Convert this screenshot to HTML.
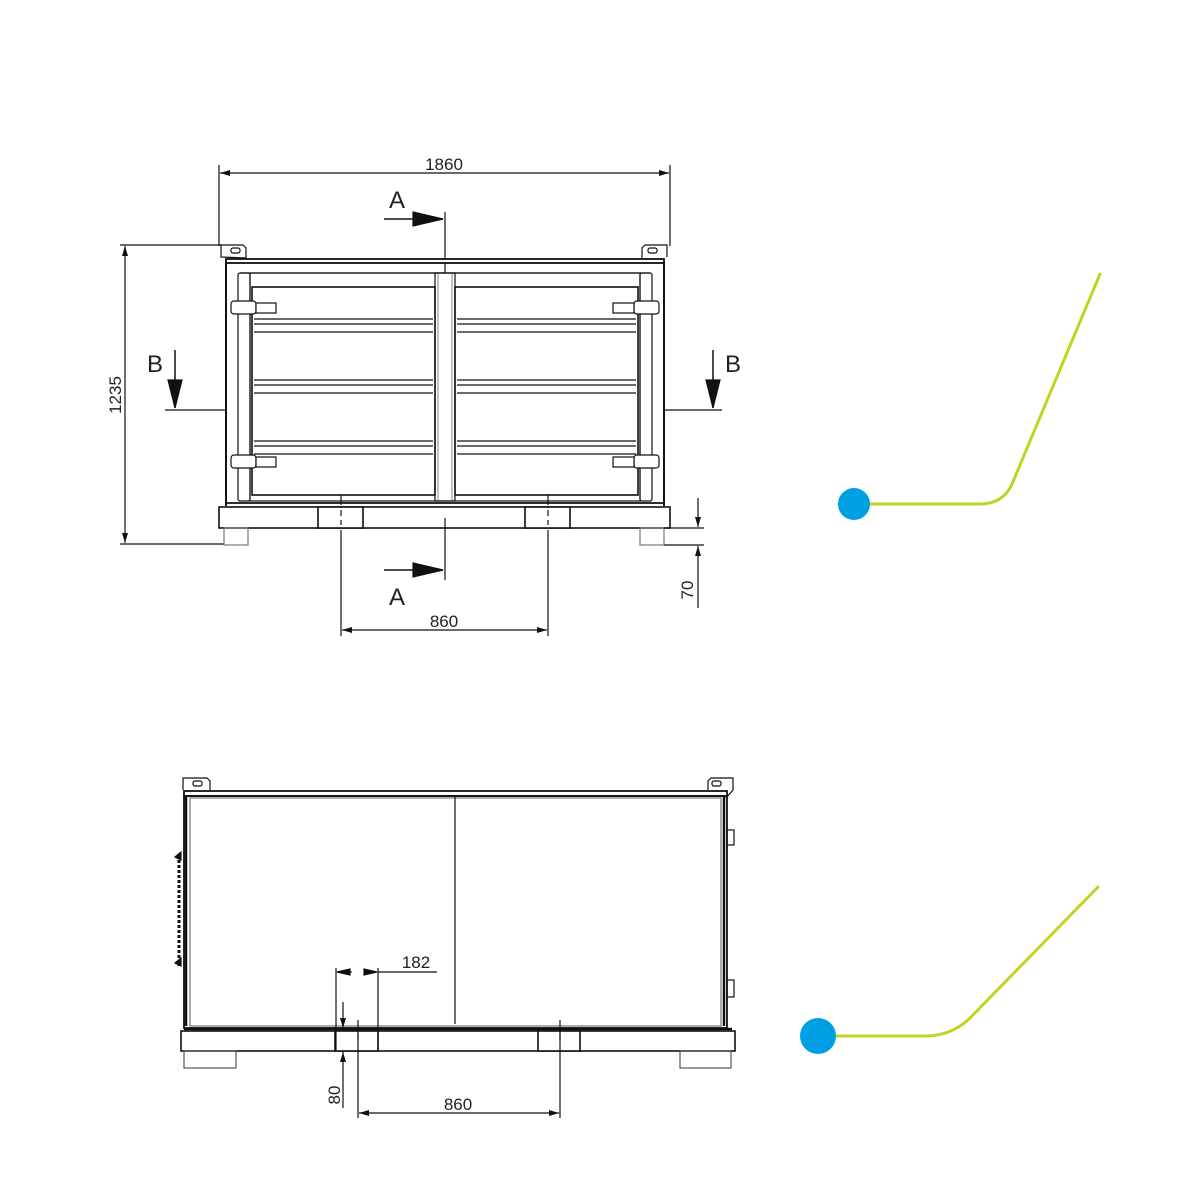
<!DOCTYPE html>
<html><head><meta charset="utf-8"><style>
html,body{margin:0;padding:0;background:#fff;}
svg{display:block}
text{font-family:"Liberation Sans",sans-serif;fill:#222;}
</style></head><body>
<svg width="1200" height="1200" viewBox="0 0 1200 1200" xmlns="http://www.w3.org/2000/svg">
<defs>
<marker id="ar" viewBox="0 0 10 6" refX="10" refY="3" markerWidth="10" markerHeight="6" orient="auto-start-reverse" markerUnits="userSpaceOnUse"><path d="M0,0 L10,3 L0,6 z" fill="#111"/></marker>
</defs>
<g stroke="#111" fill="none" stroke-width="1.2">
<!-- TOP VIEW -->
<!-- dims 1860 -->
<line x1="219" y1="165" x2="219" y2="246"/><line x1="670" y1="165" x2="670" y2="246"/>
<line x1="220" y1="173" x2="669" y2="173" marker-start="url(#ar)" marker-end="url(#ar)"/>
<!-- 1235 -->
<line x1="120" y1="245" x2="222" y2="245"/><line x1="120" y1="544" x2="224" y2="544"/>
<line x1="125" y1="246" x2="125" y2="543" marker-start="url(#ar)" marker-end="url(#ar)"/>
<!-- A top -->
<line x1="445" y1="212" x2="445" y2="273"/>
<line x1="384" y1="219" x2="443" y2="219" stroke-width="1.5"/>
<path d="M413,212 L443,219 L413,226 z" fill="#111"/>
<!-- A bottom -->
<line x1="445" y1="518" x2="445" y2="580"/>
<line x1="384" y1="570" x2="443" y2="570" stroke-width="1.5"/>
<path d="M413,563 L443,570 L413,577 z" fill="#111"/>
<!-- B left -->
<line x1="165" y1="410" x2="227" y2="410"/>
<line x1="175" y1="350" x2="175" y2="408" stroke-width="1.5"/>
<path d="M168,380 L175,408 L182,380 z" fill="#111"/>
<!-- B right -->
<line x1="664" y1="410" x2="722" y2="410"/>
<line x1="713" y1="350" x2="713" y2="408" stroke-width="1.5"/>
<path d="M706,380 L713,408 L720,380 z" fill="#111"/>
<!-- lugs -->
<path d="M221,257 L221,245 L243,245 L246,248 L246,258 z" fill="#fff"/>
<rect x="231" y="248" width="9" height="5" rx="2"/>
<path d="M642,258 L642,248 L645,245 L667,245 L667,257" fill="#fff"/>
<rect x="648" y="248" width="9" height="5" rx="2"/>
<!-- top rail -->
<rect x="226" y="259" width="438" height="4" fill="#fff" stroke-width="1.8"/>
<line x1="240" y1="273" x2="650" y2="273"/>
<!-- side posts -->
<line x1="226" y1="262" x2="226" y2="506" stroke-width="2"/>
<line x1="664" y1="262" x2="664" y2="506" stroke-width="2"/>
<rect x="238" y="273" width="12" height="228" rx="2"/>
<rect x="640" y="273" width="12" height="228" rx="2"/>
<!-- inner frame -->
<rect x="250" y="273" width="390" height="228"/>
<rect x="252" y="287" width="183" height="208" stroke-width="1.6"/>
<rect x="455" y="287" width="183" height="208" stroke-width="1.6"/>
<line x1="438" y1="273" x2="438" y2="501" stroke="#999"/>
<line x1="452" y1="273" x2="452" y2="501" stroke="#999"/>
<rect x="435" y="273" width="20" height="228"/>
<!-- rails -->
<g stroke-width="1.3">
<line x1="254" y1="319" x2="433" y2="319"/><line x1="254" y1="324" x2="433" y2="324"/><line x1="254" y1="332" x2="433" y2="332"/>
<line x1="457" y1="319" x2="636" y2="319"/><line x1="457" y1="324" x2="636" y2="324"/><line x1="457" y1="332" x2="636" y2="332"/>
<line x1="254" y1="380" x2="433" y2="380"/><line x1="254" y1="385" x2="433" y2="385"/><line x1="254" y1="393" x2="433" y2="393"/>
<line x1="457" y1="380" x2="636" y2="380"/><line x1="457" y1="385" x2="636" y2="385"/><line x1="457" y1="393" x2="636" y2="393"/>
<line x1="254" y1="441" x2="433" y2="441"/><line x1="254" y1="446" x2="433" y2="446"/><line x1="254" y1="454" x2="433" y2="454"/>
<line x1="457" y1="441" x2="636" y2="441"/><line x1="457" y1="446" x2="636" y2="446"/><line x1="457" y1="454" x2="636" y2="454"/>
</g>
<!-- hinges -->
<rect x="231" y="301" width="25" height="13" rx="3" fill="#fff"/><rect x="256" y="303" width="20" height="10" fill="#fff"/>
<rect x="231" y="455" width="25" height="13" rx="3" fill="#fff"/><rect x="256" y="457" width="20" height="10" fill="#fff"/>
<rect x="634" y="301" width="25" height="13" rx="3" fill="#fff"/><rect x="613" y="303" width="21" height="10" fill="#fff"/>
<rect x="634" y="455" width="25" height="13" rx="3" fill="#fff"/><rect x="613" y="457" width="21" height="10" fill="#fff"/>
<!-- base -->
<line x1="226" y1="503" x2="664" y2="503" stroke-width="1.8"/>
<rect x="219" y="507" width="451" height="21" stroke-width="1.6"/>
<rect x="318" y="507" width="45" height="21" fill="#fff" stroke-width="1.6"/>
<rect x="525" y="507" width="45" height="21" fill="#fff" stroke-width="1.6"/>
<line x1="341" y1="510" x2="341" y2="516"/><line x1="341" y1="520" x2="341" y2="525"/>
<line x1="548" y1="510" x2="548" y2="516"/><line x1="548" y1="520" x2="548" y2="525"/>
<rect x="224" y="528" width="24" height="17" stroke="#777"/>
<rect x="640" y="528" width="24" height="17" stroke="#777"/>
<!-- 860 -->
<line x1="341" y1="495" x2="341" y2="505"/><line x1="341" y1="530" x2="341" y2="636"/>
<line x1="548" y1="495" x2="548" y2="505"/><line x1="548" y1="530" x2="548" y2="636"/>
<line x1="342" y1="630" x2="547" y2="630" marker-start="url(#ar)" marker-end="url(#ar)"/>
<!-- 70 -->
<line x1="664" y1="528" x2="704" y2="528"/><line x1="664" y1="545" x2="704" y2="545"/>
<line x1="698" y1="498" x2="698" y2="527" marker-end="url(#ar)"/>
<line x1="698" y1="608" x2="698" y2="546" marker-end="url(#ar)"/>

<!-- BOTTOM VIEW -->
<path d="M183,790 L183,778 L207,778 L210,781 L210,790" fill="#fff"/>
<rect x="193" y="781" width="9" height="5" rx="2"/>
<path d="M708,790 L708,781 L711,778 L733,778 L733,790 L726,798" fill="#fff"/>
<rect x="712" y="781" width="9" height="5" rx="2"/>
<rect x="184" y="791" width="543" height="5" fill="#fff" stroke-width="1.8"/>
<rect x="184" y="796" width="543" height="232" stroke-width="1.8"/>
<rect x="190" y="798" width="531" height="228" stroke="#777"/>
<line x1="455" y1="797" x2="455" y2="1024"/>
<line x1="724" y1="796" x2="724" y2="1026" stroke-width="2.5"/>
<line x1="186" y1="796" x2="186" y2="1026" stroke-width="2.5"/>
<line x1="179" y1="855" x2="179" y2="966" stroke-width="3" stroke-dasharray="3,2"/>
<path d="M175,857 L181,852 L181,860 z M175,963 L181,958 L181,966 z" fill="#111"/>
<rect x="727" y="830" width="7" height="15"/><rect x="727" y="980" width="7" height="17"/>
<line x1="184" y1="1029" x2="732" y2="1029" stroke-width="2.5"/>
<rect x="181" y="1031" width="554" height="20" stroke-width="1.6"/>
<rect x="335" y="1031" width="43" height="20" fill="#fff" stroke-width="1.6"/>
<rect x="538" y="1031" width="42" height="20" fill="#fff" stroke-width="1.6"/>
<line x1="560" y1="1034" x2="560" y2="1040"/>
<rect x="184" y="1051" width="52" height="17" stroke="#555"/>
<rect x="680" y="1051" width="51" height="17" stroke="#555"/>
<!-- 182 -->
<line x1="336" y1="968" x2="336" y2="1050"/><line x1="378" y1="968" x2="378" y2="1050"/>
<line x1="337" y1="972" x2="352" y2="972" stroke-width="1"/>
<path d="M337,972 L350,969 L350,975 z M377,972 L364,969 L364,975 z" fill="#111"/>
<line x1="378" y1="972" x2="437" y2="972"/>
<!-- 80 -->
<line x1="343" y1="1002" x2="343" y2="1028" marker-end="url(#ar)"/>
<line x1="343" y1="1108" x2="343" y2="1052" marker-end="url(#ar)"/>
<!-- 860 bottom -->
<line x1="358" y1="1020" x2="358" y2="1118"/><line x1="358" y1="1034" x2="358" y2="1040"/>
<line x1="560" y1="1020" x2="560" y2="1118"/>
<line x1="359" y1="1113" x2="559" y2="1113" marker-start="url(#ar)" marker-end="url(#ar)"/>
</g>
<!-- labels -->
<text x="444" y="170" font-size="17" text-anchor="middle">1860</text>
<text x="397" y="208" font-size="24" text-anchor="middle">A</text>
<text x="397" y="605" font-size="24" text-anchor="middle">A</text>
<text x="155" y="372" font-size="24" text-anchor="middle">B</text>
<text x="733" y="372" font-size="24" text-anchor="middle">B</text>
<text transform="translate(121,395) rotate(-90)" font-size="17" text-anchor="middle">1235</text>
<text x="444" y="627" font-size="17" text-anchor="middle">860</text>
<text transform="translate(693,590) rotate(-90)" font-size="17" text-anchor="middle">70</text>
<text x="416" y="968" font-size="17" text-anchor="middle">182</text>
<text transform="translate(340,1095) rotate(-90)" font-size="17" text-anchor="middle">80</text>
<text x="458" y="1110" font-size="17" text-anchor="middle">860</text>
<!-- decorative connectors -->
<g fill="none" stroke="#c3d324" stroke-width="3" stroke-linecap="round">
<path d="M866,504 L980,504 Q1003,504 1012,484 L1100,274"/>
<path d="M830,1036 L925,1036 Q950,1036 968,1020 L1098,887"/>
</g>
<circle cx="854" cy="504" r="16" fill="#009fe3"/>
<circle cx="818" cy="1036" r="18" fill="#009fe3"/>
</svg>
</body></html>
